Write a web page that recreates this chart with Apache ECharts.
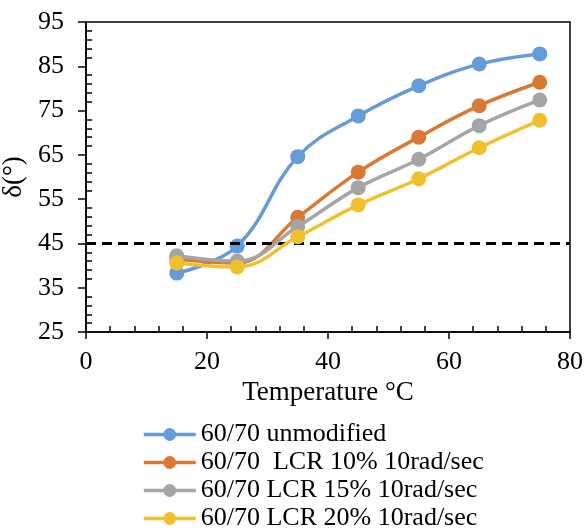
<!DOCTYPE html>
<html>
<head>
<meta charset="utf-8">
<script src="https://cdn.jsdelivr.net/npm/echarts@6/dist/echarts.min.js"></script>
<style>
  html, body { margin: 0; padding: 0; background: #fff; }
  #chart { width: 585px; height: 531px; }
</style>
</head>
<body>
<div id="chart"></div>
<script>
const temperatures = [15, 25, 35, 45, 55, 65, 75];
const unmodified = [38.3, 44.4, 64.6, 73.8, 80.6, 85.5, 87.8];
const lcr10 = [41.5, 40.6, 50.9, 61.1, 69.0, 76.1, 81.4];
const lcr15 = [42.2, 41.0, 48.8, 57.6, 64.0, 71.6, 77.4];
const lcr20 = [40.6, 39.7, 46.5, 53.7, 59.6, 66.6, 72.8];
const seriesNames = [
  '60/70 unmodified',
  '60/70  LCR 10% 10rad/sec',
  '60/70 LCR 15% 10rad/sec',
  '60/70 LCR 20% 10rad/sec'
];
const seriesValues = [unmodified, lcr10, lcr15, lcr20];
const colors = ['#659BD6', '#D97A34', '#A5A5A5', '#F0C02E'];
const limitLine = 45;

const font = 'Liberation Serif';
const chart = echarts.init(document.getElementById('chart'));

const series = seriesValues.map((vals, i) => ({
  name: seriesNames[i],
  type: 'line',
  data: vals.map((v, j) => [temperatures[j], v]),
  smooth: 0.4,
  symbol: 'circle',
  symbolSize: 15,
  lineStyle: { width: 3.5, color: colors[i] },
  itemStyle: { color: colors[i] },
  z: 3 + i
}));

// horizontal reference at 45 degrees
series.push({
  type: 'line',
  data: [],
  silent: true,
  markLine: {
    silent: true,
    symbol: ['none', 'none'],
    label: { show: false },
    lineStyle: { color: '#000', width: 3, type: [10, 6] },
    data: [{ yAxis: limitLine }]
  }
});

chart.setOption({
  backgroundColor: '#fff',
  animation: false,
  color: colors,
  grid: {
    left: 86, right: 15, top: 22, bottom: 199,
    containLabel: false,
    outerBoundsMode: 'none',
    show: true, borderColor: '#000', borderWidth: 1.5
  },
  legend: {
    orient: 'vertical',
    left: 137,
    top: 416,
    height: 115,
    itemWidth: 52,
    itemHeight: 16,
    itemGap: 1,
    data: seriesNames,
    lineStyle: { width: 3.5 },
    textStyle: { fontFamily: font, fontSize: 26, color: '#000', lineHeight: 27 }
  },
  xAxis: {
    type: 'value',
    min: 0, max: 80, interval: 20,
    name: 'Temperature °C',
    nameLocation: 'middle',
    nameGap: 43,
    nameTextStyle: { fontFamily: font, fontSize: 27, color: '#000' },
    axisLine: { lineStyle: { color: '#000', width: 1.5 } },
    axisTick: { show: true, length: 7, lineStyle: { color: '#000', width: 1.5 } },
    minorTick: { show: true, splitNumber: 5, length: -6, lineStyle: { color: '#000', width: 1.5 } },
    axisLabel: { fontFamily: font, fontSize: 26, color: '#000', margin: 17 },
    splitLine: { show: false }
  },
  yAxis: {
    type: 'value',
    min: 25, max: 95, interval: 10,
    name: 'δ(°)',
    nameLocation: 'middle',
    nameGap: 52,
    nameTextStyle: { fontFamily: font, fontSize: 27, color: '#000' },
    axisLine: { show: true, lineStyle: { color: '#000', width: 1.5 } },
    axisTick: { show: true, length: 8, lineStyle: { color: '#000', width: 1.5 } },
    minorTick: { show: true, splitNumber: 5, length: -6, lineStyle: { color: '#000', width: 1.5 } },
    axisLabel: { fontFamily: font, fontSize: 26, color: '#000', margin: 22 },
    splitLine: { show: false }
  },
  series: series
});
</script>
</body>
</html>
